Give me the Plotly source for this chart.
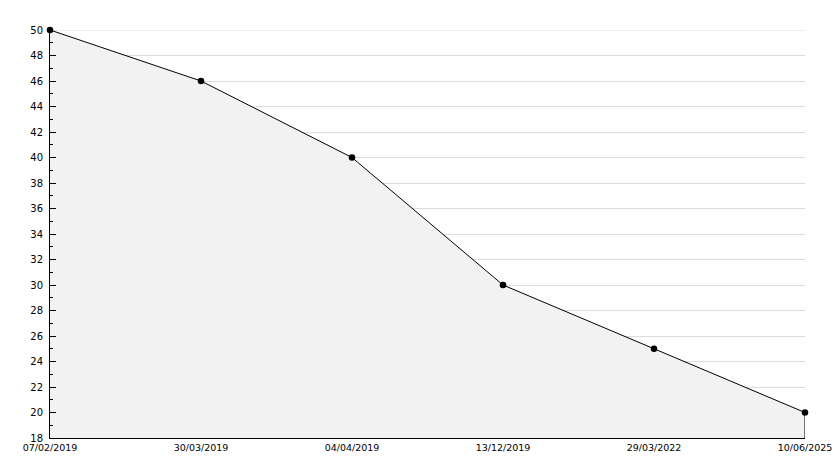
import plotly.graph_objects as go

dates = ["07/02/2019", "30/03/2019", "04/04/2019", "13/12/2019", "29/03/2022", "10/06/2025"]
values = [50, 46, 40, 30, 25, 20]
y_min, y_max = 18, 50

fig = go.Figure()
fig.add_trace(go.Scatter(
    x=dates, y=values, mode="lines+markers",
    fill="tozeroy", fillcolor="#f2f2f2",
    line=dict(color="black", width=1),
    marker=dict(color="black", size=6.5, symbol="circle"),
    hoverinfo="skip", showlegend=False, cliponaxis=False,
))
# right-edge border of the fill
fig.add_trace(go.Scatter(
    x=[dates[-1], dates[-1]], y=[values[-1], y_min], mode="lines",
    line=dict(color="black", width=1), hoverinfo="skip", showlegend=False,
    cliponaxis=False,
))

# top gridline (plotly hides the one at the range edge)
fig.add_shape(type="line", xref="paper", x0=0, x1=1, yref="y", y0=y_max, y1=y_max,
              line=dict(color="#dcdcdc", width=1), layer="below")

font = dict(family="DejaVu Sans", size=10, color="black")
fig.update_layout(
    width=834, height=468,
    margin=dict(l=50, r=29, t=30, b=30),
    paper_bgcolor="white", plot_bgcolor="white",
    font=font,
    xaxis=dict(
        type="category", range=[0, len(dates) - 1],
        showgrid=False, showline=True, linecolor="black", linewidth=1,
        ticks="", tickfont=dict(family="DejaVu Sans", size=9.5, color="black"),
        zeroline=False, automargin=False, ticklabelstandoff=1,
    ),
    yaxis=dict(
        range=[y_min, y_max], dtick=2, tick0=18,
        showgrid=True, gridcolor="#dcdcdc", gridwidth=1,
        showline=True, linecolor="black", linewidth=1,
        ticks="inside", ticklen=6, tickcolor="black", tickwidth=1,
        minor=dict(ticks="inside", ticklen=3, tickcolor="black", dtick=1, showgrid=False),
        tickfont=font, zeroline=False, ticklabelstandoff=4, automargin=False,
    ),
)
fig.write_html("out.html", config={"displayModeBar": False},
               post_script="document.body.style.margin='0';document.body.style.overflow='hidden';")
